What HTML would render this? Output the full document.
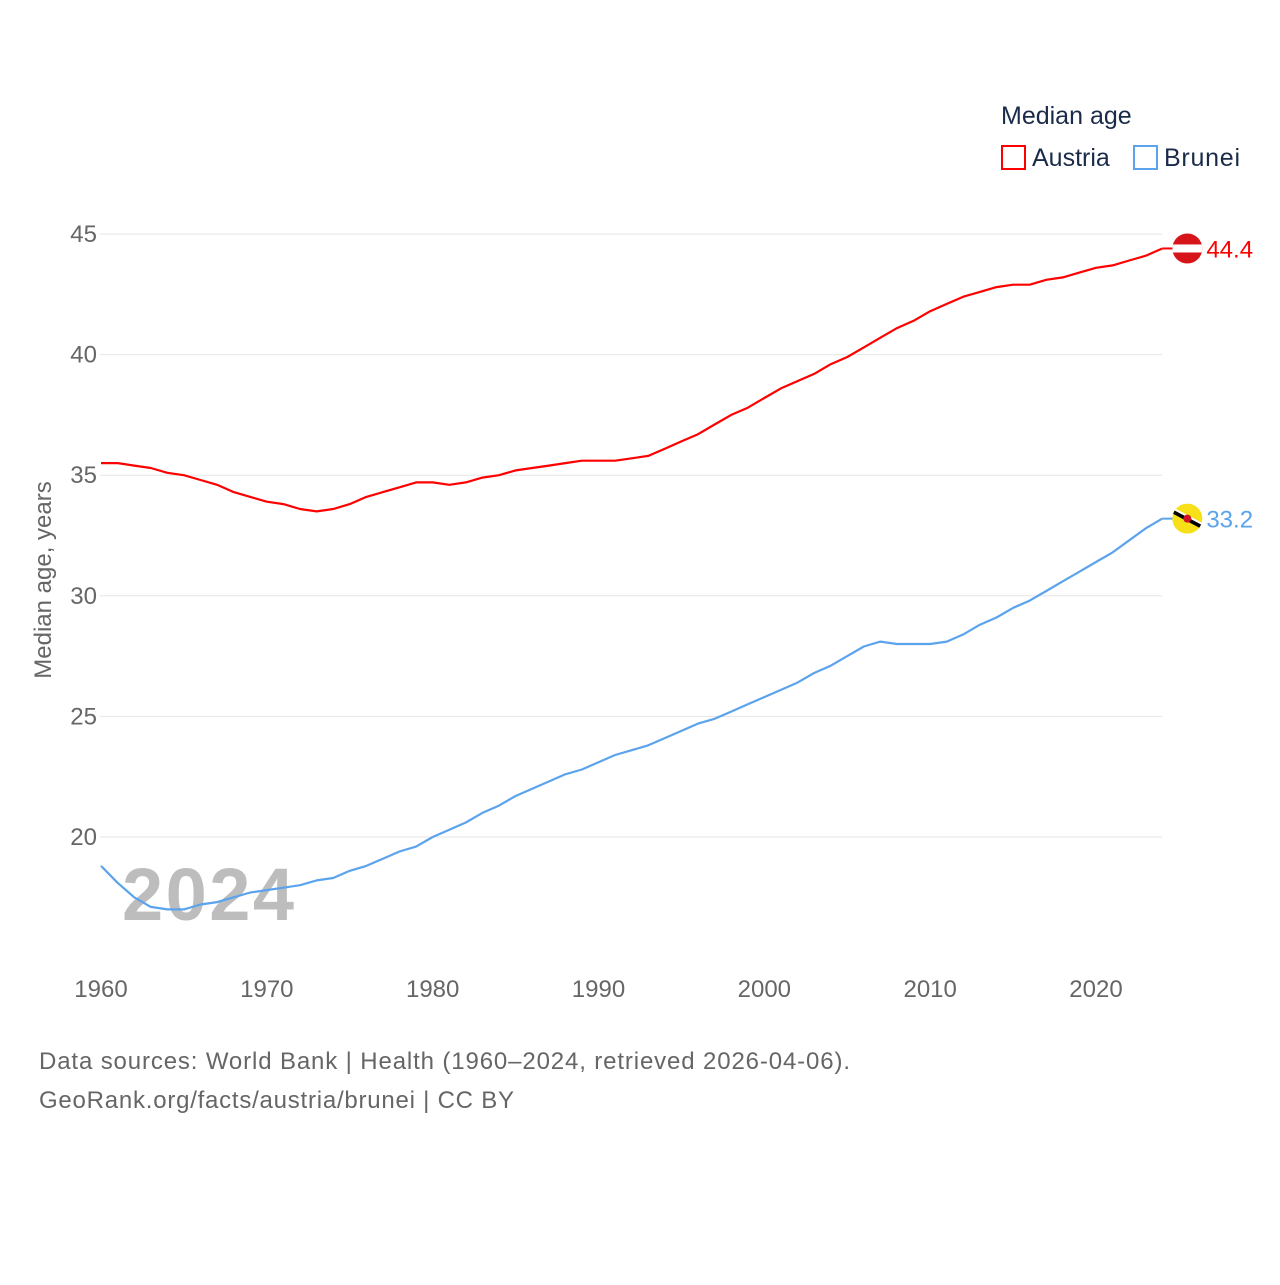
<!DOCTYPE html>
<html><head><meta charset="utf-8"><style>
body{margin:0;background:#fff;font-family:"Liberation Sans",sans-serif;}
svg text{font-family:"Liberation Sans",sans-serif;}
</style></head><body>
<svg id="chart" width="1280" height="1280" xmlns="http://www.w3.org/2000/svg">
<defs><clipPath id="ca"><circle id="cac" cx="0" cy="0" r="15"/></clipPath><clipPath id="cb"><circle id="cbc" cx="0" cy="0" r="15"/></clipPath></defs>
<rect width="1280" height="1280" fill="#fff"/>
<g id="grid"></g>
<g id="yticks"></g>
<g id="xticks"></g>
<text x="122" y="920" font-size="74" font-weight="bold" fill="#bdbdbd" textLength="172">2024</text>
<g id="lines"></g>
<text transform="translate(51,580) rotate(-90)" text-anchor="middle" font-size="24" fill="#666">Median age, years</text>
<text x="1001" y="124" font-size="25" fill="#1a2b4a">Median age</text>
<g><rect x="1002" y="146" width="23" height="23" fill="none" stroke="#f00" stroke-width="2"/><text x="1032" y="166" font-size="25" fill="#1a2b4a">Austria</text></g>
<g><rect x="1134" y="146" width="23" height="23" fill="none" stroke="#5ba3ec" stroke-width="2"/><text x="1164" y="166" font-size="25" fill="#1a2b4a" textLength="76">Brunei</text></g>
<text x="39" y="1069" font-size="24" fill="#666" textLength="811">Data sources: World Bank | Health (1960–2024, retrieved 2026-04-06).</text>
<text x="39" y="1108" font-size="24" fill="#666" textLength="475">GeoRank.org/facts/austria/brunei | CC BY</text>
</svg>
<script>
const years=[];for(let y=1960;y<=2024;y++)years.push(y);
const austria=[35.5,35.5,35.4,35.3,35.1,35.0,34.8,34.6,34.3,34.1,33.9,33.8,33.6,33.5,33.6,33.8,34.1,34.3,34.5,34.7,34.7,34.6,34.7,34.9,35.0,35.2,35.3,35.4,35.5,35.6,35.6,35.6,35.7,35.8,36.1,36.4,36.7,37.1,37.5,37.8,38.2,38.6,38.9,39.2,39.6,39.9,40.3,40.7,41.1,41.4,41.8,42.1,42.4,42.6,42.8,42.9,42.9,43.1,43.2,43.4,43.6,43.7,43.9,44.1,44.4];
const brunei=[18.8,18.1,17.5,17.1,17.0,17.0,17.2,17.3,17.5,17.7,17.8,17.9,18.0,18.2,18.3,18.6,18.8,19.1,19.4,19.6,20.0,20.3,20.6,21.0,21.3,21.7,22.0,22.3,22.6,22.8,23.1,23.4,23.6,23.8,24.1,24.4,24.7,24.9,25.2,25.5,25.8,26.1,26.4,26.8,27.1,27.5,27.9,28.1,28.0,28.0,28.0,28.1,28.4,28.8,29.1,29.5,29.8,30.2,30.6,31.0,31.4,31.8,32.3,32.8,33.2];
const yTicks=[20,25,30,35,40,45];
const xTicks=[1960,1970,1980,1990,2000,2010,2020];
const NS="http://www.w3.org/2000/svg";
const X=v=>101+(v-1960)*(1096-101)/60;
const Y=v=>234+(45-v)*(837-234)/25;
function mk(t,a,p){const e=document.createElementNS(NS,t);for(const k in a)e.setAttribute(k,a[k]);p.appendChild(e);return e;}
const grid=document.getElementById('grid'),yt=document.getElementById('yticks'),xt=document.getElementById('xticks'),ln=document.getElementById('lines');
yTicks.forEach(v=>{
 const l=mk('line',{x1:100,x2:1162,y1:Y(v),y2:Y(v),stroke:'#e6e6e6','stroke-width':1},grid);
 
 
 const t=mk('text',{x:97,y:Y(v)+8,'text-anchor':'end','font-size':24,fill:'#666'},yt);t.textContent=v;
 
 
});
xTicks.forEach(v=>{
 const t=mk('text',{x:X(v),y:997,'text-anchor':'middle','font-size':24,fill:'#666'},xt);t.textContent=v;
 
 
});
function series(vals,color,name){
 const d=vals.map((v,i)=>(i?'L':'M')+X(years[i]).toFixed(1)+' '+Y(v).toFixed(1)).join(' ');
 const p=mk('path',{d:d,fill:'none',stroke:color,'stroke-width':2.2,'stroke-linejoin':'round'},ln);
 
 
 const last=vals[vals.length-1],lx=X(years[years.length-1]),ly=Y(last);
 mk('line',{x1:lx,x2:lx+12,y1:ly,y2:ly,stroke:color,'stroke-width':2},ln);
 const t=mk('text',{x:lx+44,y:ly+9,'font-size':24,fill:color},ln);t.textContent=last.toFixed(1);
 
 
 return [lx+25,ly];
}
const a=series(austria,'#f00','austria');
const b=series(brunei,'#5ba3ec','brunei');
document.getElementById('cac').setAttribute('cx',a[0]);document.getElementById('cac').setAttribute('cy',a[1]);
document.getElementById('cbc').setAttribute('cx',b[0]);document.getElementById('cbc').setAttribute('cy',b[1]);
const fa=mk('g',{'clip-path':'url(#ca)'},ln);


mk('rect',{x:a[0]-15,y:a[1]-15,width:30,height:30,fill:'#d7141a'},fa);
mk('rect',{x:a[0]-15,y:a[1]-4,width:30,height:8,fill:'#fff'},fa);
const fb=mk('g',{'clip-path':'url(#cb)'},ln);


mk('rect',{x:b[0]-15,y:b[1]-15,width:30,height:30,fill:'#f7e017'},fb);
mk('line',{x1:b[0]-16,y1:b[1]-8,x2:b[0]+16,y2:b[1]+9,stroke:'#000','stroke-width':4},fb);
mk('line',{x1:b[0]-16,y1:b[1]-11,x2:b[0]+16,y2:b[1]+6,stroke:'#fff','stroke-width':2},fb);
mk('circle',{cx:b[0],cy:b[1],r:4,fill:'#cf1126'},fb);
</script>
</body></html>
